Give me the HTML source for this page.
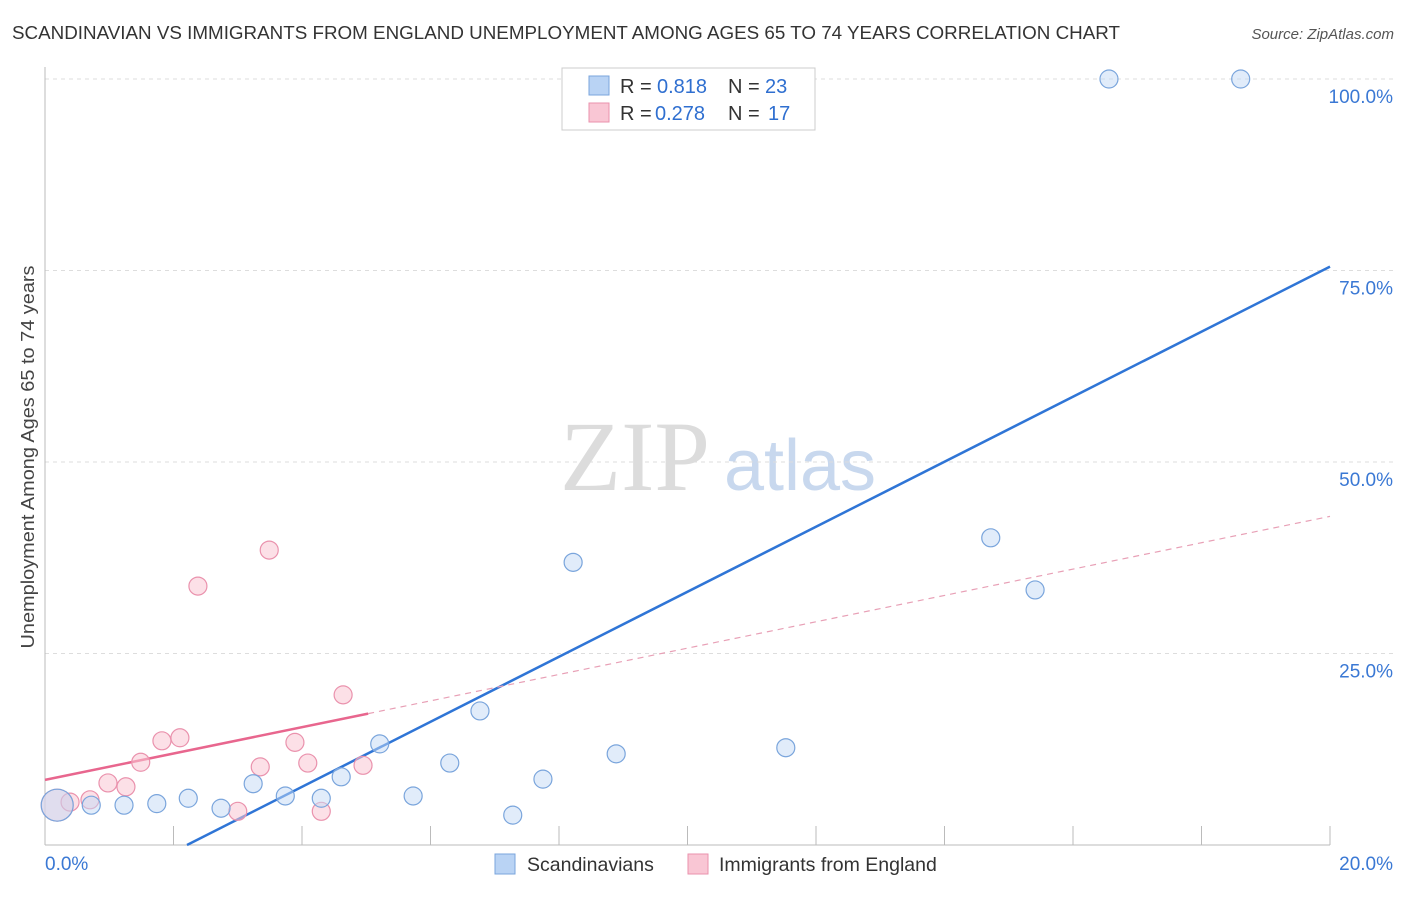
<!DOCTYPE html>
<html><head><meta charset="utf-8"><style>
body{margin:0;background:#fff;font-family:"Liberation Sans",sans-serif;}
</style></head><body>
<svg id="chart" width="1406" height="892" viewBox="0 0 1406 892" xmlns="http://www.w3.org/2000/svg" font-family="Liberation Sans, sans-serif">
<text x="12" y="39" font-size="18" fill="#333" textLength="1108" lengthAdjust="spacingAndGlyphs">SCANDINAVIAN VS IMMIGRANTS FROM ENGLAND UNEMPLOYMENT AMONG AGES 65 TO 74 YEARS CORRELATION CHART</text>
<text x="1394" y="39" font-size="15" fill="#555" text-anchor="end" font-style="italic">Source: ZipAtlas.com</text>
<text transform="translate(34,457) rotate(-90)" font-size="18.5" fill="#444" text-anchor="middle" textLength="383" lengthAdjust="spacingAndGlyphs">Unemployment Among Ages 65 to 74 years</text>
<g>
<text x="635" y="490" font-size="100" fill="#dcdcdc" style="font-family:'Liberation Serif',serif" text-anchor="middle">ZIP</text>
<text x="800" y="490" font-size="72" fill="#c8d8ee" text-anchor="middle">atlas</text>
</g>
<g id="grid"></g>
<g id="axes"></g>
<g id="lines"></g>
<g id="points"></g>
<g>
<rect x="562" y="68" width="253" height="62" fill="#fff" stroke="#ccc"/>
<rect x="589" y="76" width="20" height="19" fill="#b9d3f4" stroke="#7aa5dc"/>
<text x="620" y="93" font-size="20" fill="#333">R = </text><text x="657" y="93" font-size="20" fill="#2f6fd0">0.818</text>
<text x="728" y="93" font-size="20" fill="#333">N = </text><text x="765" y="93" font-size="20" fill="#2f6fd0">23</text>
<rect x="589" y="103" width="20" height="19" fill="#f9c6d4" stroke="#ea92ad"/>
<text x="620" y="120" font-size="20" fill="#333">R = </text><text x="655" y="120" font-size="20" fill="#2f6fd0">0.278</text>
<text x="728" y="120" font-size="20" fill="#333">N = </text><text x="768" y="120" font-size="20" fill="#2f6fd0">17</text>
</g>
<g>
<rect x="495" y="854" width="20" height="20" fill="#b9d3f4" stroke="#7aa5dc"/>
<text x="527" y="871" font-size="19.5" fill="#333">Scandinavians</text>
<rect x="688" y="854" width="20" height="20" fill="#f9c6d4" stroke="#ea92ad"/>
<text x="719" y="871" font-size="19.5" fill="#333">Immigrants from England</text>
</g>
</svg>
<script>
const blueX=[0.19,0.72,1.23,1.74,2.23,2.74,3.24,3.74,4.30,4.61,5.21,5.73,6.30,6.77,7.28,7.75,8.22,8.89,11.53,14.72,15.41,16.56,18.61];
const blueY=[5.2,5.2,5.2,5.4,6.1,4.8,8.0,6.4,6.1,8.9,13.2,6.4,10.7,17.5,3.9,8.6,36.9,11.9,12.7,40.1,33.3,100,100];
const pinkX=[0.19,0.39,0.70,0.98,1.26,1.49,1.82,2.10,2.38,3.00,3.35,3.49,3.89,4.09,4.30,4.64,4.95];
const pinkY=[5.2,5.6,5.9,8.1,7.6,10.8,13.6,14.0,33.8,4.4,10.2,38.5,13.4,10.7,4.4,19.6,10.4];
const blueFit=[-9.38,4.244];
const pinkFit=[8.5,1.72];
const pinkSolidEnd=5.03;
const yTicks=[25,50,75,100];
const yTickLabels=["25.0%","50.0%","75.0%","100.0%"];
const xTicks=[2,4,6,8,10,12,14,16,18,20];
const NS="http://www.w3.org/2000/svg";
const sx=v=>45+v/20*1285, sy=v=>845-v/100*766;
function mk(tag,attrs,parent){const e=document.createElementNS(NS,tag);for(const k in attrs)e.setAttribute(k,attrs[k]);document.getElementById(parent).appendChild(e);return e;}
yTicks.forEach((t,i)=>{
 const l=mk('line',{x1:45,x2:1394,y1:sy(t),y2:sy(t),stroke:'#ddd','stroke-dasharray':'4,4'},'grid');
 
 
 const tx=mk('text',{x:1393,y:sy(t)+24,'font-size':19,fill:'#3a78d4','text-anchor':'end'},'grid');
 tx.textContent=yTickLabels[i];
 
 
});
const ax=mk('line',{x1:45,x2:45,y1:67,y2:845,stroke:'#bbb'},'axes');


const bx=mk('line',{x1:45,x2:1330,y1:845,y2:845,stroke:'#bbb'},'axes');


xTicks.forEach(t=>{
 const l=mk('line',{x1:sx(t),x2:sx(t),y1:826,y2:845,stroke:'#bbb'},'axes');
 
 
});
const x0=mk('text',{x:45,y:870,'font-size':19,fill:'#3a78d4'},'axes');x0.textContent='0.0%';


const x1=mk('text',{x:1393,y:870,'font-size':19,fill:'#3a78d4','text-anchor':'end'},'axes');x1.textContent='20.0%';


function pts(xs,ys,fill,stroke,name,op){
 xs.forEach((x,i)=>{
  const r=(i===0)?16:9;
  const c=mk('circle',{cx:sx(x),cy:sy(ys[i]),r:r,fill:fill,'fill-opacity':op,stroke:stroke,'stroke-width':1.2},'points');
  
  
 });
}
pts(pinkX,pinkY,'#f9c6d4','#ea92ad','england-point',0.55);
pts(blueX,blueY,'#c3d9f5','#7aa5dc','scandinavian-point',0.5);
const bStart=-blueFit[0]/blueFit[1];
const bl=mk('line',{x1:sx(bStart),y1:sy(0),x2:sx(20),y2:sy(blueFit[0]+blueFit[1]*20),stroke:'#2f75d6','stroke-width':2.5},'lines');


const pl=mk('line',{x1:sx(0),y1:sy(pinkFit[0]),x2:sx(pinkSolidEnd),y2:sy(pinkFit[0]+pinkFit[1]*pinkSolidEnd),stroke:'#e8668e','stroke-width':2.5},'lines');


const pd=mk('line',{x1:sx(pinkSolidEnd),y1:sy(pinkFit[0]+pinkFit[1]*pinkSolidEnd),x2:sx(20),y2:sy(pinkFit[0]+pinkFit[1]*20),stroke:'#e8a0b6','stroke-width':1.2,'stroke-dasharray':'6,5'},'lines');


</script>
</body></html>
